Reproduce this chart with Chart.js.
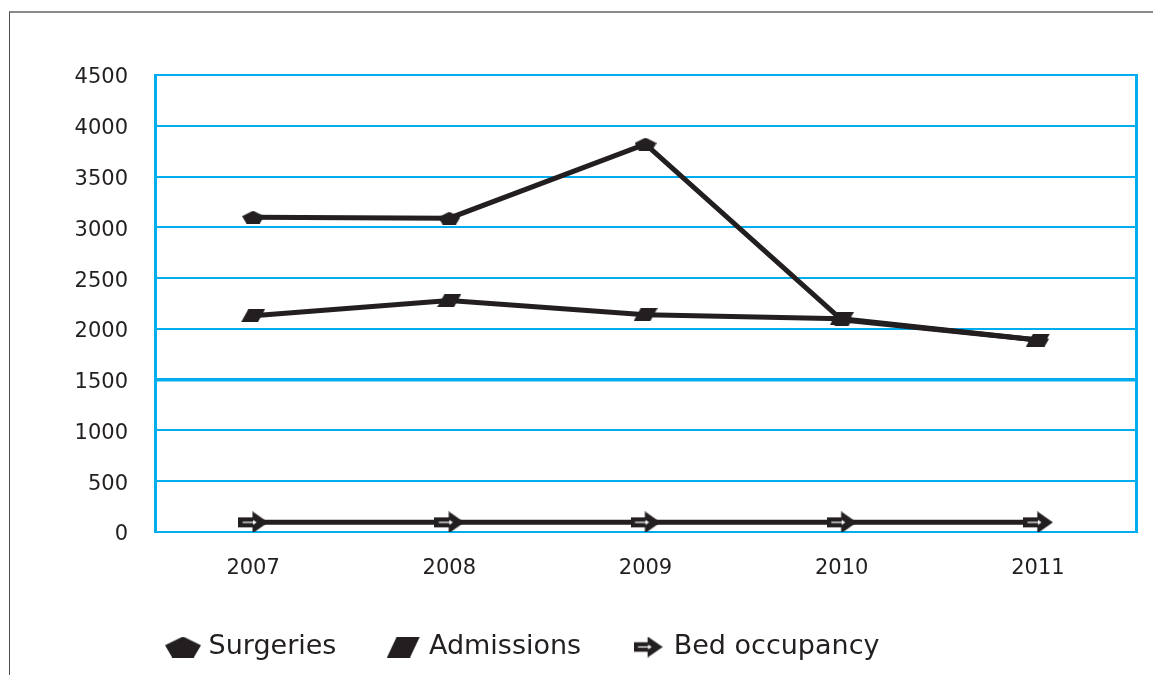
<!DOCTYPE html>
<html>
<head>
<meta charset="utf-8">
<script src="https://cdn.jsdelivr.net/npm/chart.js@4.4.1/dist/chart.umd.min.js"></script>
<style>
  html, body { margin: 0; padding: 0; background: #fff; }
  #wrap { position: relative; width: 1153px; height: 675px; overflow: hidden; }
  #frame { position: absolute; left: 9px; top: 11px; right: -5px; bottom: -5px; border-left: 1px solid #4d4d4d; border-top: 2px solid #8a8a8a; }
  #myChart { position: absolute; left: 0; top: 0; }
</style>
</head>
<body>
<div id="wrap">
  <div id="frame"></div>
  <canvas id="myChart" width="1153" height="675"></canvas>
</div>
<script>
let years = ['2007', '2008', '2009', '2010', '2011'];
let surgeries = [3100, 3090, 3820, 2090, 1890];
let admissions = [2130, 2280, 2140, 2100, 1890];
let bedOccupancy = [95, 95, 95, 95, 95];
let yMin = 0;
let yMax = 4500;
let yStep = 500;

const INK = '#231f20';
const BLUE = '#00aeef';
const FONT = "'DejaVu Sans', sans-serif";

// little canvases used as point markers (chart size and legend size)
function makeMarker(w, h, draw) {
    let c = document.createElement('canvas');
    c.width = w;
    c.height = h;
    let ctx = c.getContext('2d');
    ctx.fillStyle = INK;
    draw(ctx, w, h);
    return c;
}

function pentagon(ctx, w, h) {
    ctx.beginPath();
    ctx.moveTo(w * 0.5, 0);
    ctx.lineTo(w, h * 0.42);
    ctx.lineTo(w * 0.8, h);
    ctx.lineTo(w * 0.2, h);
    ctx.lineTo(0, h * 0.42);
    ctx.closePath();
    ctx.fill();
}

function slab(ctx, w, h) {
    ctx.beginPath();
    ctx.moveTo(0, h);
    ctx.lineTo(w * 0.3, 0);
    ctx.lineTo(w, 0);
    ctx.lineTo(w * 0.7, h);
    ctx.closePath();
    ctx.fill();
}

function arrow(ctx, w, h) {
    let bx = w * 0.48;
    ctx.beginPath();
    ctx.moveTo(0, h * 0.27);
    ctx.lineTo(bx, h * 0.27);
    ctx.lineTo(bx, 0);
    ctx.lineTo(w, h / 2);
    ctx.lineTo(bx, h);
    ctx.lineTo(bx, h * 0.73);
    ctx.lineTo(0, h * 0.73);
    ctx.closePath();
    ctx.fill();
    ctx.strokeStyle = '#fff';
    ctx.lineWidth = 1.2;
    ctx.beginPath();
    ctx.moveTo(w * 0.15, h / 2);
    ctx.lineTo(w * 0.52, h / 2);
    ctx.stroke();
    ctx.fillStyle = '#fff';
    ctx.beginPath();
    ctx.moveTo(w * 0.62, h / 2);
    ctx.lineTo(w * 0.5, h / 2 - 2.5);
    ctx.lineTo(w * 0.5, h / 2 + 2.5);
    ctx.closePath();
    ctx.fill();
}

const pointMarkers = [makeMarker(22, 13, pentagon), makeMarker(24, 13, slab), makeMarker(30, 22, arrow)];
const legendMarkers = [makeMarker(36, 21, pentagon), makeMarker(33, 21, slab), makeMarker(29, 21, arrow)];

// move the legend row to the right, like the original
const legendShift = {
    id: 'legendShift',
    afterLayout(chart) {
        chart.legend.left += 116;
        chart.legend.right += 116;
    }
};

function series(label, data, i) {
    return {
        label: label,
        data: data,
        borderColor: INK,
        backgroundColor: INK,
        borderWidth: 5,
        tension: 0,
        pointStyle: pointMarkers[i],
        pointRadius: 10,
        pointHoverRadius: 10
    };
}

let chartElement = document.getElementById('myChart').getContext('2d');

let myChart = new Chart(chartElement, {
    type: 'line',
    data: {
        labels: years,
        datasets: [
            series('Surgeries', surgeries, 0),
            series('Admissions', admissions, 1),
            series('Bed occupancy', bedOccupancy, 2)
        ]
    },
    options: {
        responsive: false,
        animation: false,
        layout: { padding: { top: 75, right: 17, bottom: 4.5, left: 0 } },
        scales: {
            x: {
                offset: true,
                grid: { display: false, drawTicks: false },
                border: { display: false },
                ticks: { color: INK, font: { family: FONT, size: 21 }, padding: 24 },
                afterFit: function(s) { s.height = 46.5; }
            },
            y: {
                min: yMin,
                max: yMax,
                ticks: {
                    stepSize: yStep,
                    color: INK,
                    font: { family: FONT, size: 21 },
                    padding: 27,
                    labelOffset: 3,
                    callback: value => String(value)
                },
                grid: {
                    color: BLUE,
                    lineWidth: ctx => (ctx.tick && ctx.tick.value === 1500 ? 3.5 : 2),
                    drawTicks: false
                },
                border: { color: BLUE, width: 3 },
                afterFit: function(s) { s.width = 155; }
            },
            y2: {
                position: 'right',
                min: yMin,
                max: yMax,
                ticks: { display: false },
                grid: { drawOnChartArea: false, drawTicks: false },
                border: { color: BLUE, width: 3 },
                afterFit: function(s) { s.width = 0; }
            }
        },
        plugins: {
            tooltip: { enabled: false },
            legend: {
                position: 'bottom',
                align: 'start',
                labels: {
                    usePointStyle: true,
                    pointStyleWidth: 24,
                    padding: 55,
                    color: INK,
                    font: { family: FONT, size: 27 },
                    generateLabels: function(chart) {
                        let items = Chart.defaults.plugins.legend.labels.generateLabels(chart);
                        items.forEach((item, i) => { item.pointStyle = legendMarkers[i]; });
                        return items;
                    }
                }
            }
        }
    },
    plugins: [legendShift]
});
</script>
</body>
</html>
